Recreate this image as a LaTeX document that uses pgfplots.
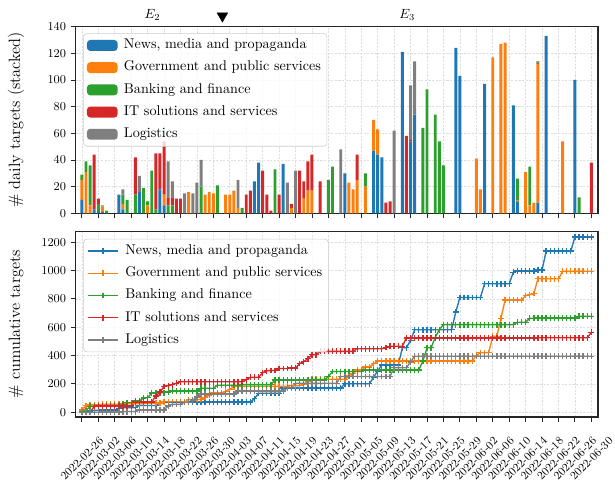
\documentclass[border=0pt]{standalone}
\usepackage{pgfplots}
\pgfplotsset{compat=1.18}
\usepackage{pgfplotstable}
\definecolor{cN}{HTML}{1F77B4}
\definecolor{cG}{HTML}{FF7F0E}
\definecolor{cB}{HTML}{2CA02C}
\definecolor{cI}{HTML}{D62728}
\definecolor{cL}{HTML}{7F7F7F}
\pgfplotstableread{
d N G B I L
0 10 15 4 0 0
1 0 31 8 0 0
2 0 6 30 0 0
3 3 0 0 41 0
4 1 0 6 4 0
5 1 4 0 0 1
6 0 0 2 0 0
9 14 0 0 0 0
10 3 4 7 0 4
11 0 0 10 0 0
13 0 0 14 28 0
14 16 0 0 0 12
15 0 0 19 0 0
16 0 6 3 0 0
17 0 0 32 0 0
18 0 0 3 42 0
19 18 0 0 27 0
20 6 8 0 40 0
21 0 0 6 6 27
22 0 0 6 6 12
23 0 0 0 11 0
24 0 0 0 11 0
25 0 0 0 0 15
26 0 16 0 0 0
27 0 0 0 0 15
28 0 0 0 0 23
29 0 0 20 0 20
30 0 14 0 0 0
31 0 16 0 0 0
32 0 15 0 0 0
33 0 0 21 0 0
35 0 14 0 0 0
36 0 14 0 0 0
37 0 17 0 0 0
38 0 4 0 0 21
39 0 0 4 0 0
40 0 0 0 14 0
41 0 0 0 17 0
42 24 0 0 0 0
43 38 0 0 0 0
44 0 0 0 32 0
45 0 0 0 14 0
46 0 0 0 2 0
47 0 0 33 0 0
48 0 0 0 14 0
49 37 0 0 0 0
50 0 0 0 0 23
51 0 4 0 3 0
52 0 0 0 0 32
53 0 0 0 32 0
54 0 11 0 13 0
55 0 17 0 22 0
56 0 17 0 27 0
58 0 0 0 24 0
60 0 0 25 0 0
61 0 0 35 0 0
63 0 0 0 0 48
64 30 0 0 0 0
65 0 23 0 0 0
66 0 18 0 0 0
67 0 25 0 19 0
69 0 20 10 0 0
71 47 23 0 0 0
72 44 19 0 0 0
73 42 0 0 0 0
74 0 0 0 8 0
75 0 0 0 9 0
76 0 0 0 0 62
78 121 0 0 0 0
79 0 0 0 58 0
80 54 0 0 1 41
81 74 0 0 0 40
83 0 0 64 0 0
84 0 0 93 0 0
86 0 0 74 0 0
87 0 0 54 0 0
88 0 0 36 0 0
91 124 0 0 0 0
92 103 0 0 0 0
96 0 41 0 0 0
97 0 18 0 0 0
98 97 0 0 0 0
100 0 117 0 0 0
102 0 127 0 0 0
103 0 128 0 0 0
105 81 0 0 0 0
106 9 1 16 0 0
108 0 31 0 0 0
109 0 6 29 0 0
110 0 8 0 0 0
111 8 104 1 1 0
113 133 0 0 0 0
117 0 54 0 0 0
120 100 0 0 0 0
121 0 0 12 0 0
124 0 0 0 38 0
}\daily
\pgfplotstableread{
d N G B I L
0 10 15 4 0 0
1 10 46 12 0 0
2 10 52 42 0 0
3 13 52 42 41 0
4 14 52 48 45 0
5 15 56 48 45 1
6 15 56 50 45 1
7 15 56 50 45 1
8 15 56 50 45 1
9 29 56 50 45 1
10 32 60 57 45 5
11 32 60 67 45 5
12 32 60 67 45 5
13 32 60 81 73 5
14 48 60 81 73 17
15 48 60 100 73 17
16 48 66 103 73 17
17 48 66 135 73 17
18 48 66 138 115 17
19 66 66 138 142 17
20 72 74 138 182 17
21 72 74 144 188 44
22 72 74 150 194 56
23 72 74 150 205 56
24 72 74 150 216 56
25 72 74 150 216 71
26 72 90 150 216 71
27 72 90 150 216 86
28 72 90 150 216 109
29 72 90 170 216 129
30 72 104 170 216 129
31 72 120 170 216 129
32 72 135 170 216 129
33 72 135 191 216 129
34 72 135 191 216 129
35 72 149 191 216 129
36 72 163 191 216 129
37 72 180 191 216 129
38 72 184 191 216 150
39 72 184 195 216 150
40 72 184 195 230 150
41 72 184 195 247 150
42 96 184 195 247 150
43 134 184 195 247 150
44 134 184 195 279 150
45 134 184 195 293 150
46 134 184 195 295 150
47 134 184 228 295 150
48 134 184 228 309 150
49 171 184 228 309 150
50 171 184 228 309 173
51 171 188 228 312 173
52 171 188 228 312 205
53 171 188 228 344 205
54 171 199 228 357 205
55 171 216 228 379 205
56 171 233 228 406 205
57 171 233 228 406 205
58 171 233 228 430 205
59 171 233 228 430 205
60 171 233 253 430 205
61 171 233 288 430 205
62 171 233 288 430 205
63 171 233 288 430 253
64 201 233 288 430 253
65 201 256 288 430 253
66 201 274 288 430 253
67 201 299 288 449 253
68 201 299 288 449 253
69 201 319 298 449 253
70 201 319 298 449 253
71 248 342 298 449 253
72 292 361 298 449 253
73 334 361 298 449 253
74 334 361 298 457 253
75 334 361 298 466 253
76 334 361 298 466 315
77 334 361 298 466 315
78 455 361 298 466 315
79 455 361 298 524 315
80 509 361 298 525 356
81 583 361 298 525 396
82 583 361 298 525 396
83 583 361 362 525 396
84 583 361 455 525 396
85 583 361 455 525 396
86 583 361 529 525 396
87 583 361 583 525 396
88 583 361 619 525 396
89 583 361 619 525 396
90 583 361 619 525 396
91 707 361 619 525 396
92 810 361 619 525 396
93 810 361 619 525 396
94 810 361 619 525 396
95 810 361 619 525 396
96 810 402 619 525 396
97 810 420 619 525 396
98 907 420 619 525 396
99 907 420 619 525 396
100 907 537 619 525 396
101 907 537 619 525 396
102 907 664 619 525 396
103 907 792 619 525 396
104 907 792 619 525 396
105 988 792 619 525 396
106 997 793 635 525 396
107 997 793 635 525 396
108 997 824 635 525 396
109 997 830 664 525 396
110 997 838 664 525 396
111 1005 942 665 526 396
112 1005 942 665 526 396
113 1138 942 665 526 396
114 1138 942 665 526 396
115 1138 942 665 526 396
116 1138 942 665 526 396
117 1138 996 665 526 396
118 1138 996 665 526 396
119 1138 996 665 526 396
120 1238 996 665 526 396
121 1238 996 677 526 396
122 1238 996 677 526 396
123 1238 996 677 526 396
124 1238 996 677 564 396
}\cumul
\pgfplotsset{
  barleg/.style={legend image code/.code={\fill[##1, fill opacity=1] (0pt,-4.1pt) rectangle (23pt,4.1pt);}},
  lineleg/.style={legend image code/.code={\draw[##1, mark=none, line width=1pt, draw opacity=1] (0pt,0pt) -- (23pt,0pt); \draw[##1, line width=1pt, draw opacity=1] plot coordinates {(11.5pt,0pt)};}},
  common/.style={
    scale only axis, width=391.7pt, xmin=-1.5, xmax=125.6,
    xtick={0,4,...,124}, tick align=outside, tick pos=left,
    major tick length=3.75pt,
    grid=major,
    major grid style={black!13, dash pattern=on 1.6pt off 1.1pt, line width=0.5pt},
    axis line style={black!85, line width=0.9pt},
    tick style={black!85, line width=0.7pt},
    tick label style={font=\fontsize{8.6}{10}\selectfont},
    yticklabel style={/pgf/number format/1000 sep={}},
    label style={font=\fontsize{12.3}{15}\selectfont},
    ylabel style={at={(axis description cs:-0.1143,0.5)}, anchor=center},
    legend cell align=left,
    legend style={at={(0.0146,0.965)}, anchor=north west, draw=black!20,
      rounded corners=2.5pt, fill=white, fill opacity=0.8, text opacity=1, draw opacity=1,
      font=\fontsize{10.6}{12.7}\selectfont, inner xsep=2.5pt, inner ysep=2pt,
      nodes={inner sep=2pt, text height=7.5pt, text depth=2.5pt}, row sep=2.65pt,
      /tikz/every odd column/.append style={column sep=2.75pt}},
  }
}
\begin{document}
\begin{tikzpicture}
\begin{axis}[common, at={(0pt,0pt)}, anchor=north west, height=140pt,
  ymin=0, ymax=140, ytick={0,20,...,140}, xticklabels={},
  ybar stacked, bar width=0.72, clip=false,
  ylabel={\# daily targets (stacked)}]
\addplot[fill=cN, draw=none, barleg] table[x=d,y=N]{\daily};
\addlegendentry{News, media and propaganda}
\addplot[fill=cG, draw=none, barleg] table[x=d,y=G]{\daily};
\addlegendentry{Government and public services}
\addplot[fill=cB, draw=none, barleg] table[x=d,y=B]{\daily};
\addlegendentry{Banking and finance}
\addplot[fill=cI, draw=none, barleg] table[x=d,y=I]{\daily};
\addlegendentry{IT solutions and services}
\addplot[fill=cL, draw=none, barleg] table[x=d,y=L]{\daily};
\addlegendentry{Logistics}
\node[font=\fontsize{10}{12}\selectfont] at (axis cs:17.2,149) {$E_2$};
\node[font=\fontsize{10}{12}\selectfont] at (axis cs:79.2,149) {$E_3$};
\end{axis}
\begin{axis}[at={(0pt,0pt)}, anchor=north west, scale only axis, width=391.7pt, height=140pt,
  xmin=-1.5, xmax=125.6, ymin=0, ymax=140, hide axis, clip=false]
\addplot[only marks, mark=triangle*, mark size=4.5pt, mark options={rotate=180, fill=black, draw=black}] coordinates {(34.2,148)};
\end{axis}
\begin{axis}[common, at={(0pt,-153.75pt)}, anchor=north west, height=139pt,
  ymin=-33, ymax=1275, ytick={0,200,...,1200},
  xticklabels={2022-02-26,2022-03-02,2022-03-06,2022-03-10,2022-03-14,2022-03-18,2022-03-22,2022-03-26,2022-03-30,2022-04-03,2022-04-07,2022-04-11,2022-04-15,2022-04-19,2022-04-23,2022-04-27,2022-05-01,2022-05-05,2022-05-09,2022-05-13,2022-05-17,2022-05-21,2022-05-25,2022-05-29,2022-06-02,2022-06-06,2022-06-10,2022-06-14,2022-06-18,2022-06-22,2022-06-26,2022-06-30},
  xticklabel style={yshift=-27.5pt, rotate=45, anchor=center},
  ylabel={\# cumulative targets},
  legend style={at={(0.0146,0.961)}},
  every axis plot/.append style={line width=1pt, mark=+, mark size=2.2pt}]
\addplot[cN, lineleg] table[x=d,y=N]{\cumul};
\addlegendentry{News, media and propaganda}
\addplot[cG, lineleg] table[x=d,y=G]{\cumul};
\addlegendentry{Government and public services}
\addplot[cB, lineleg] table[x=d,y=B]{\cumul};
\addlegendentry{Banking and finance}
\addplot[cI, lineleg] table[x=d,y=I]{\cumul};
\addlegendentry{IT solutions and services}
\addplot[cL, lineleg] table[x=d,y=L]{\cumul};
\addlegendentry{Logistics}
\end{axis}
\pgfresetboundingbox
\useasboundingbox (-56.8pt,20pt) rectangle (404.5pt,-341.5pt);
\end{tikzpicture}
\end{document}
